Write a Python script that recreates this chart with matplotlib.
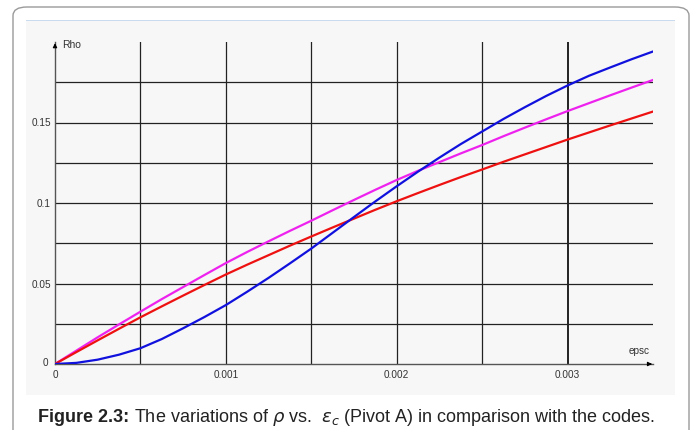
import matplotlib
matplotlib.use("Agg")
import matplotlib.pyplot as plt
from matplotlib.patches import FancyBboxPatch, Rectangle

plt.rcParams['font.family'] = ['Liberation Sans', 'DejaVu Sans']

# values (strain epsc vs. reinforcement ratio rho)
epsc = [0, 0.000125, 0.00025, 0.000375, 0.0005, 0.000625, 0.00075, 0.000875,
        0.001, 0.001125, 0.00125, 0.001375, 0.0015, 0.001625, 0.00175, 0.001875,
        0.002, 0.002125, 0.00225, 0.002375, 0.0025, 0.002625, 0.00275, 0.002875,
        0.003, 0.003125, 0.00325, 0.003375, 0.0035]
rho_blue = [0, 0.0007, 0.0027, 0.0058, 0.0098, 0.0155, 0.0222, 0.0292,
            0.0366, 0.0449, 0.0535, 0.0625, 0.0717, 0.0815, 0.0913, 0.1010,
            0.1104, 0.1195, 0.1282, 0.1366, 0.1444, 0.1522, 0.1595, 0.1665,
            0.1730, 0.1790, 0.1842, 0.1893, 0.1941]
rho_magenta = [0, 0.0083, 0.0166, 0.0246, 0.0325, 0.0403, 0.0478, 0.0553,
               0.0627, 0.0696, 0.0762, 0.0827, 0.0890, 0.0955, 0.1019, 0.1082,
               0.1143, 0.1200, 0.1254, 0.1308, 0.1360, 0.1415, 0.1468, 0.1520,
               0.1571, 0.1620, 0.1669, 0.1717, 0.1764]
rho_red = [0, 0.0074, 0.0147, 0.0219, 0.0290, 0.0358, 0.0425, 0.0491,
           0.0556, 0.0617, 0.0676, 0.0735, 0.0792, 0.0848, 0.0903, 0.0958,
           0.1011, 0.1062, 0.1112, 0.1161, 0.1208, 0.1256, 0.1302, 0.1348,
           0.1394, 0.1438, 0.1482, 0.1525, 0.1568]

x_ticks = [0, 0.001, 0.002, 0.003]
x_labels = ["0", "0.001", "0.002", "0.003"]
y_ticks = [0.05, 0.1, 0.15]
y_labels = ["0.05", "0.1", "0.15"]

W, H = 697, 430
fig = plt.figure(figsize=(W / 100, H / 100), dpi=100)
fig.patch.set_facecolor("white")

# outer rounded frame and grey panel (behind the axes)
fig.patches.append(FancyBboxPatch((13 / W, -20 / H), 676 / W, 443 / H,
                                  boxstyle="round,pad=0,rounding_size=0.02",
                                  transform=fig.transFigure, facecolor="white",
                                  edgecolor="#9a9a9a", linewidth=1.0, zorder=-3))
fig.patches.append(Rectangle((26 / W, (H - 395) / H), 649 / W, 375 / H,
                             transform=fig.transFigure, facecolor="#f7f7f7",
                             edgecolor="none", zorder=-2))
fig.patches.append(Rectangle((26 / W, (H - 20.5) / H), 649 / W, 0.8 / H,
                             transform=fig.transFigure, facecolor="#c9dcef",
                             edgecolor="none", zorder=-2))

ax = fig.add_axes([55 / W, (H - 364) / H, 598 / W, 322 / H])
ax.set_facecolor("none")
ax.set_xlim(0, 0.0035)
ax.set_ylim(0, 0.2)

for gx in [0.0005, 0.001, 0.0015, 0.002, 0.0025, 0.003]:
    lw = 1.4 if gx == 0.003 else 0.9
    ax.axvline(gx, color="#222222", lw=lw, zorder=1)
for gy in [0.025, 0.05, 0.075, 0.1, 0.125, 0.15, 0.175]:
    ax.axhline(gy, color="#222222", lw=0.9, zorder=1)

ax.plot(epsc, rho_magenta, color="#ee22ee", lw=1.6, zorder=3)
ax.plot(epsc, rho_red, color="#ee1111", lw=1.6, zorder=3)
ax.plot(epsc, rho_blue, color="#1111dd", lw=1.6, zorder=4)

for s in ["top", "right"]:
    ax.spines[s].set_visible(False)
for s in ["left", "bottom"]:
    ax.spines[s].set_color("#555555")
    ax.spines[s].set_linewidth(1.0)

ax.set_xticks(x_ticks)
ax.set_xticklabels(x_labels)
ax.set_yticks(y_ticks)
ax.set_yticklabels(y_labels)
ax.tick_params(length=0, labelsize=7.2, colors="#333333", pad=4)
ax.tick_params(axis="y", pad=3)
ax.text(-0.00004, 0.0008, "0", ha="right", va="center", fontsize=7.2, color="#333333")

# axis arrows and names
ax.annotate("", xy=(1.003, 0), xycoords="axes fraction", xytext=(0.99, 0),
            arrowprops=dict(arrowstyle="-|>", color="black", lw=0.8,
                            mutation_scale=6), annotation_clip=False)
ax.annotate("", xy=(0, 1.005), xycoords="axes fraction", xytext=(0, 0.98),
            arrowprops=dict(arrowstyle="-|>", color="black", lw=0.8,
                            mutation_scale=6), annotation_clip=False)
ax.text(0.012, 0.99, "Rho", transform=ax.transAxes, fontsize=7.5,
        color="#333333", va="center", ha="left")
ax.text(0.995, 0.025, "epsc", transform=ax.transAxes, fontsize=7.2,
        color="#333333", va="bottom", ha="right")

# caption
t1 = fig.text(38 / W, (H - 417) / H, "Figure 2.3:", fontsize=13,
              fontweight="bold", color="#222222", va="center", ha="left")
fig.canvas.draw()
bb = t1.get_window_extent()
fig.text(bb.x1 / W + 5 / W, (H - 417) / H,
         r"The variations of $\rho$ vs.  $\varepsilon_c$ (Pivot A) in comparison with the codes.",
         fontsize=13, color="#222222", va="center", ha="left")

fig.savefig("out.png", dpi=100)
